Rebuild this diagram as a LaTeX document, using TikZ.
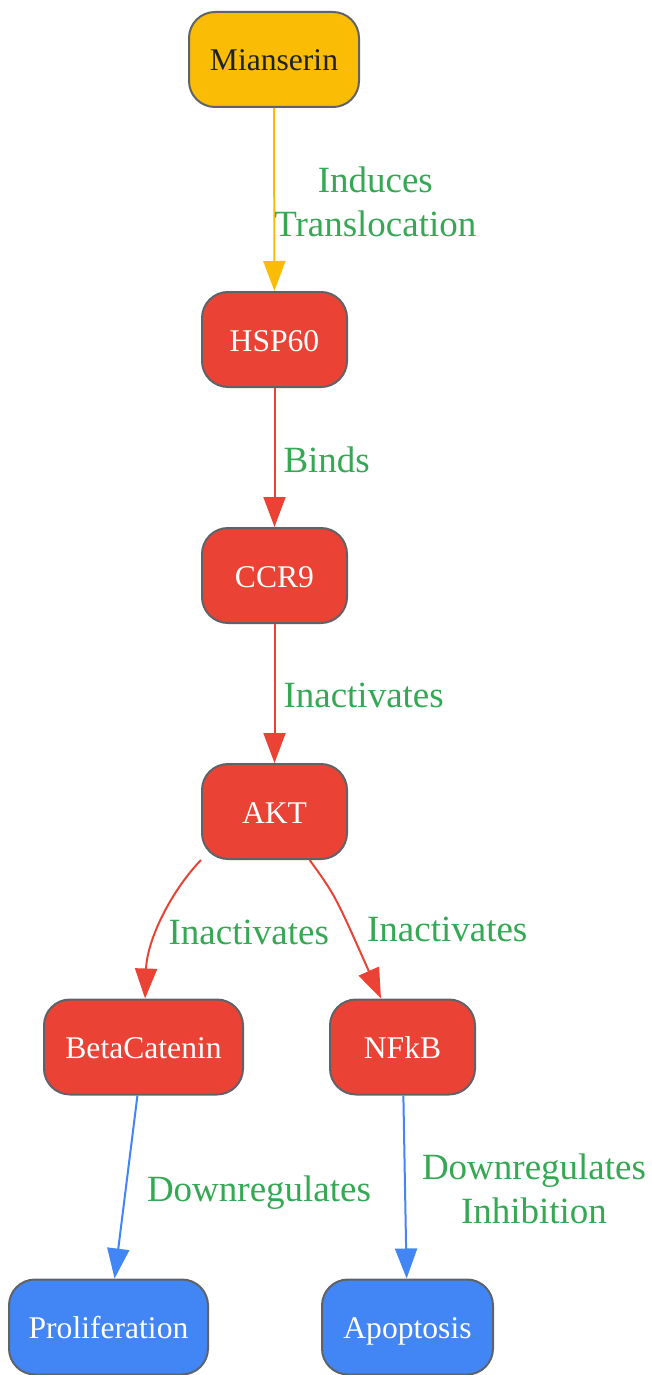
\documentclass[tikz,border=0pt]{standalone}
\usepackage{fontspec}
\setmainfont{Liberation Serif}
\usetikzlibrary{arrows.meta}
\definecolor{gyellow}{HTML}{FBBC05}
\definecolor{gred}{HTML}{EA4335}
\definecolor{gblue}{HTML}{4285F4}
\definecolor{ggreen}{HTML}{34A853}
\definecolor{ggray}{HTML}{5F6368}
\definecolor{gdark}{HTML}{202124}
\begin{document}
\begin{tikzpicture}[x=0.5pt,y=-0.5pt,
    box/.style={draw=ggray,line width=1pt,rounded corners=13pt,minimum height=47.5pt,
        inner sep=0pt,text height=11.5pt,text depth=0pt,text=white,
        font=\fontsize{15.8}{18}\selectfont},
    lbl/.style={text=ggreen,font=\fontsize{18.5}{22}\selectfont,align=center,inner sep=4pt},
    link/.style={line width=1pt,-{Triangle[length=15pt,width=11pt]}}]
    \useasboundingbox (0,0) rectangle (652,1375);
    \node[box,fill=gyellow,text=gdark,minimum width=85pt] (mian) at (274,59.5) {Mianserin};
    \node[box,fill=gred,minimum width=72.5pt] (hsp) at (274.5,339.5) {HSP60};
    \node[box,fill=gred,minimum width=72.5pt] (ccr) at (274.5,575.5) {CCR9};
    \node[box,fill=gred,minimum width=72.5pt] (akt) at (274.5,811.5) {AKT};
    \node[box,fill=gred,minimum width=99.5pt] (beta) at (143.5,1047) {BetaCatenin};
    \node[box,fill=gred,minimum width=72.5pt] (nfkb) at (402.5,1047) {NFkB};
    \node[box,fill=gblue,minimum width=99.5pt] (prolif) at (108.5,1327) {Proliferation};
    \node[box,fill=gblue,minimum width=85.5pt] (apop) at (407.5,1327) {Apoptosis};
    % edges
    \draw[link,gyellow] (mian) -- node[lbl,anchor=west,xshift=-4.5pt,yshift=-1pt] (l1) {Induces\\Translocation} (hsp);
    \draw[link,gred] (hsp) -- node[lbl,anchor=west,yshift=-1pt] (l2) {Binds} (ccr);
    \draw[link,gred] (ccr) -- node[lbl,anchor=west,yshift=-1pt] (l3) {Inactivates} (akt);
    \draw[link,gred] (akt.south west) .. controls (171,891) and (147,940) .. node[lbl,anchor=west,pos=0.55,yshift=-3pt] (l4) {Inactivates} (beta);
    \draw[link,gred] (akt) .. controls (335,895) .. node[lbl,anchor=west,pos=0.7,xshift=4pt] (l5) {Inactivates} (nfkb);
    \draw[link,gblue] (beta) -- node[lbl,anchor=west,xshift=6pt,yshift=-3pt] (l6) {Downregulates} (prolif);
    \draw[link,gblue] (nfkb) -- node[lbl,anchor=west,xshift=4pt,yshift=-1pt] (l7) {Downregulates\\Inhibition} (apop);
\end{tikzpicture}
\end{document}
